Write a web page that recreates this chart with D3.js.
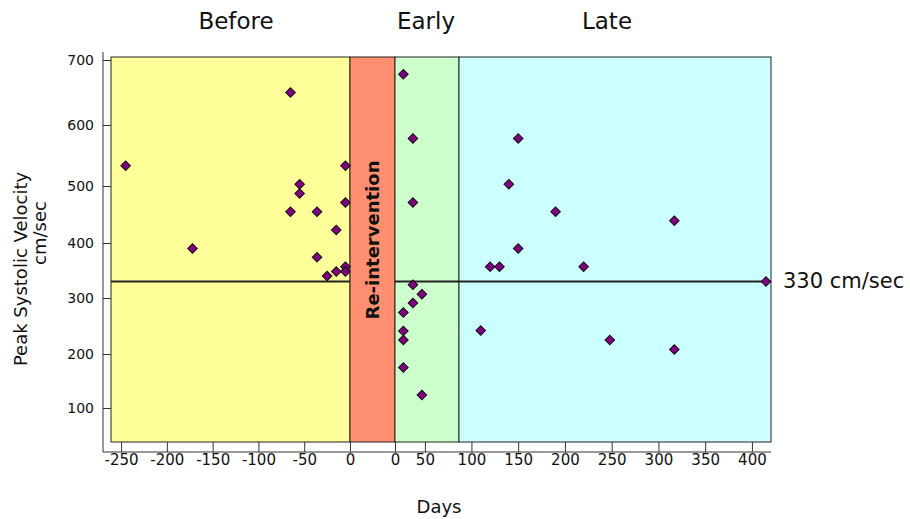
<!DOCTYPE html>
<html>
<head>
<meta charset="utf-8">
<script src="https://cdn.jsdelivr.net/npm/d3@7"></script>
<style>
  body { margin: 0; background: white; }
  text { font-family: "DejaVu Sans", Verdana, sans-serif; fill: #111; }
</style>
</head>
<body>
<div id="chart"></div>
<script>
// data (days relative to re-intervention, PSV in cm/sec)
let beforeDays = [-245, -172, -65, -65, -55, -55, -36, -36, -25, -15, -15, -5, -5, -5, -5];
let beforePSV  = [533, 390, 650, 455, 503, 487, 455, 374, 340, 423, 348, 533, 471, 357, 348];
let earlyDays  = [14, 30, 30, 30, 45, 30, 14, 14, 14, 14, 45];
let earlyPSV   = [678, 578, 471, 324, 307, 291, 274, 241, 225, 175, 124];
let lateDays   = [150, 140, 190, 317, 150, 120, 130, 220, 415, 110, 248, 317];
let latePSV    = [578, 503, 455, 439, 390, 357, 357, 357, 330, 242, 225, 208];
let threshold  = 330;

let sectionNames = ["Before", "Early", "Late"];
let beforeTicks = [-250, -200, -150, -100, -50, 0];
let earlyTicks  = [0, 50];
let lateTicks   = [100, 150, 200, 250, 300, 350, 400];
let yTicks      = [100, 200, 300, 400, 500, 600, 700];

var W = 910, H = 519;
var plotLeft = 111, plotRight = 771, plotTop = 57, plotBottom = 442;
var reLeft = 350, reRight = 395, earlyRight = 459;
var axisX = 103, axisY = 452;

var svg = d3.select("#chart").append("svg")
    .attr("width", W).attr("height", H);

// the original axis is not evenly spaced, so the y scale is piecewise over the ticks
var y = d3.scaleLinear().domain(yTicks).range([408, 354, 298, 243, 186, 125, 60]);
var xBefore = d3.scaleLinear().domain([-261, 0]).range([plotLeft, reLeft]);
var xEarly  = d3.scaleLinear().domain([0, 107]).range([reRight, earlyRight]);
var xLate   = d3.scaleLinear().domain([86.7, 420.4]).range([earlyRight, plotRight]);

// background bands
var bands = [
    {x0: plotLeft, x1: reLeft, fill: "#ffff99"},
    {x0: reLeft, x1: reRight, fill: "#ff8f70"},
    {x0: reRight, x1: earlyRight, fill: "#ccffcc"},
    {x0: earlyRight, x1: plotRight, fill: "#ccffff"}
];
svg.selectAll(".band").data(bands).enter().append("rect")
    .attr("class", "band")
    .attr("x", d => d.x0).attr("y", plotTop)
    .attr("width", d => d.x1 - d.x0).attr("height", plotBottom - plotTop)
    .attr("fill", d => d.fill)
    .attr("stroke", "#222").attr("stroke-width", 1);

// re-intervention label
svg.append("text")
    .attr("transform", "translate(" + ((reLeft + reRight) / 2 + 6) + ",240) rotate(-90)")
    .attr("text-anchor", "middle")
    .style("font-weight", "bold").style("font-size", "18px")
    .text("Re-intervention");

// 330 threshold line, broken over the re-intervention band
svg.append("line")
    .attr("x1", plotLeft).attr("x2", reLeft)
    .attr("y1", y(threshold)).attr("y2", y(threshold))
    .attr("stroke", "#222").attr("stroke-width", 2);
svg.append("line")
    .attr("x1", reRight).attr("x2", plotRight)
    .attr("y1", y(threshold)).attr("y2", y(threshold))
    .attr("stroke", "#222").attr("stroke-width", 2);
svg.append("text")
    .attr("x", plotRight + 12).attr("y", y(threshold) + 6)
    .style("font-size", "21px")
    .text(threshold + " cm/sec");

// axes
var yAxis = svg.append("g")
    .attr("transform", "translate(" + axisX + ",0)")
    .call(d3.axisLeft(y).tickValues(yTicks).tickSize(-8).tickPadding(9).tickSizeOuter(0));
yAxis.select(".domain").remove();
yAxis.selectAll("text").style("font-size", "14px").style("font-family", "DejaVu Sans, sans-serif");
yAxis.selectAll("line").attr("stroke", "#333");
svg.append("line")
    .attr("x1", axisX).attr("x2", axisX).attr("y1", 52).attr("y2", axisY)
    .attr("stroke", "#333");

var xSegments = [[xBefore, beforeTicks], [xEarly, earlyTicks], [xLate, lateTicks]];
xSegments.forEach(function(seg) {
    var g = svg.append("g")
        .attr("transform", "translate(0," + axisY + ")")
        .call(d3.axisBottom(seg[0]).tickValues(seg[1]).tickFormat(d => String(d))
            .tickSize(-10).tickPadding(2).tickSizeOuter(0));
    g.select(".domain").remove();
    g.selectAll("text").style("font-size", "15px").style("font-family", "DejaVu Sans, sans-serif");
    g.selectAll("line").attr("stroke", "#333");
});
svg.append("line")
    .attr("x1", axisX).attr("x2", plotRight).attr("y1", axisY).attr("y2", axisY)
    .attr("stroke", "#333");

// points
var diamond = d3.symbol().type(d3.symbolSquare).size(46);
var groups = [[xBefore, beforeDays, beforePSV], [xEarly, earlyDays, earlyPSV], [xLate, lateDays, latePSV]];
groups.forEach(function(gr) {
    var pts = gr[1].map(function(d, i) { return {day: d, psv: gr[2][i]}; });
    svg.selectAll(null).data(pts).enter().append("path")
        .attr("d", diamond)
        .attr("transform", d => "translate(" + gr[0](d.day) + "," + y(d.psv) + ") rotate(45)")
        .attr("fill", "#800080")
        .attr("stroke", "#111").attr("stroke-width", 1);
});

// section titles
var titleX = [236, 426, 607];
svg.selectAll(".title").data(sectionNames).enter().append("text")
    .attr("x", (d, i) => titleX[i]).attr("y", 29)
    .attr("text-anchor", "middle")
    .style("font-size", "23px")
    .text(d => d);

// axis titles
svg.append("text")
    .attr("transform", "translate(27,269) rotate(-90)")
    .attr("text-anchor", "middle").style("font-size", "18px")
    .text("Peak Systolic Velocity");
svg.append("text")
    .attr("transform", "translate(46,233) rotate(-90)")
    .attr("text-anchor", "middle").style("font-size", "18px")
    .text("cm/sec");
svg.append("text")
    .attr("x", 439).attr("y", 513)
    .attr("text-anchor", "middle").style("font-size", "18px")
    .text("Days");
</script>
</body>
</html>
